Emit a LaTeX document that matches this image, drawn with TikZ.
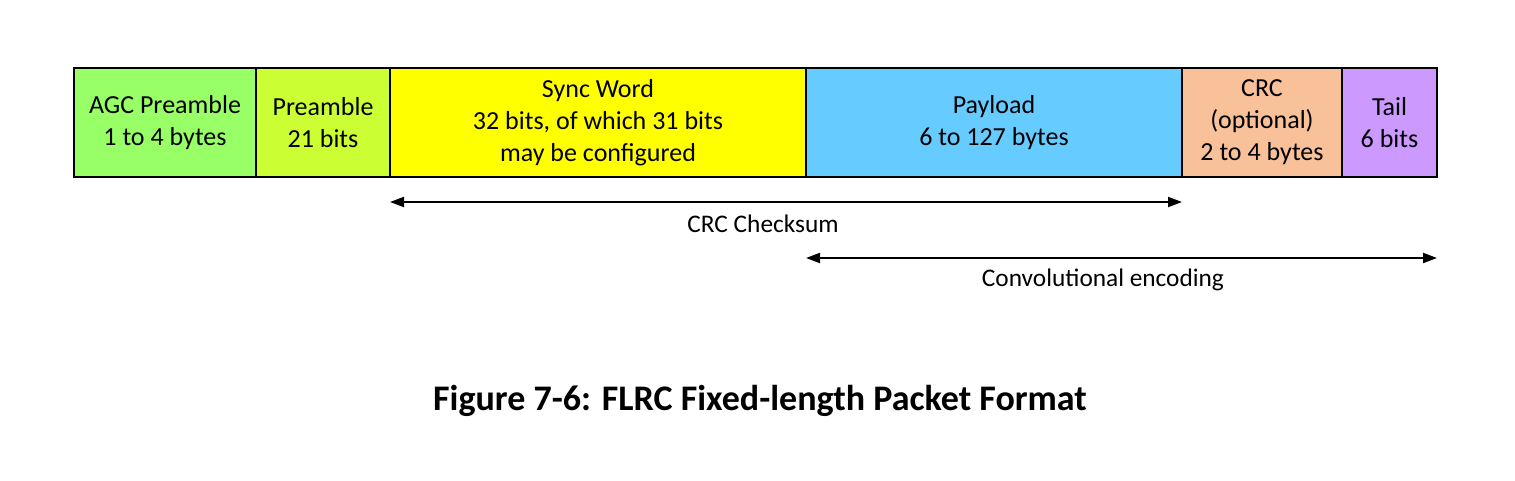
\documentclass[tikz,border=0pt]{standalone}
\usepackage{fontspec}
\setmainfont{Carlito}
\usetikzlibrary{arrows.meta, positioning, calc}

\definecolor{agcgreen}{HTML}{99FF66}
\definecolor{preyellow}{HTML}{CCFF33}
\definecolor{syncyellow}{HTML}{FFFF00}
\definecolor{payblue}{HTML}{66CCFF}
\definecolor{crcpeach}{HTML}{F9C19A}
\definecolor{tailviolet}{HTML}{CC99FF}

\tikzset{
  field/.style={draw, line width=0.9pt, minimum height=81.75pt, inner sep=0pt, outer sep=0pt,
    align=center, font=\fontsize{19.5}{24}\selectfont},
  span/.style={{Triangle[length=10.5pt,width=7.5pt]}-{Triangle[length=10.5pt,width=7.5pt]}, line width=1.5pt},
  spanlabel/.style={font=\fontsize{19}{22}\selectfont}
}

\begin{document}
\begin{tikzpicture}[x=0.75pt, y=-0.75pt]
                \useasboundingbox (0,0) rectangle (1515,481);

                % Packet fields
                \node[field, fill=agcgreen, minimum width=136.5pt, anchor=north west] (agc) at (74,68) {AGC Preamble\\1 to 4 bytes};
                \node[field, fill=preyellow, minimum width=100.5pt, right=0pt of agc] (pre) {Preamble\\21 bits};
                \node[field, fill=syncyellow, minimum width=312pt, right=0pt of pre] (sync) {Sync Word\\32 bits, of which 31 bits\\may be configured};
                \node[field, fill=payblue, minimum width=282pt, right=0pt of sync] (pay) {Payload\\6 to 127 bytes};
                \node[field, fill=crcpeach, minimum width=120pt, right=0pt of pay] (crc) {CRC\\(optional)\\2 to 4 bytes};
                \node[field, fill=tailviolet, minimum width=71.25pt, right=0pt of crc] (tail) {Tail\\6 bits};

                % Coverage arrows
                \coordinate (cs1) at ([yshift=-18.75pt]sync.south west);
                \coordinate (cs2) at ([yshift=-18.75pt]crc.south west);
                \draw[span] (cs1) -- (cs2);
                \node[spanlabel] (cslabel) at (763,224) {CRC Checksum};

                \coordinate (ce1) at ([yshift=-60.75pt]pay.south west);
                \coordinate (ce2) at ([yshift=-60.75pt]tail.south east);
                \draw[span] (ce1) -- (ce2);
                \node[spanlabel] (celabel) at (1103,280) {Convolutional encoding};

                % Caption
                \node[font=\bfseries\fontsize{27}{30}\selectfont] (caption) at (760,401) {Figure 7-6: FLRC Fixed-length Packet Format};
            \end{tikzpicture}
\end{document}
